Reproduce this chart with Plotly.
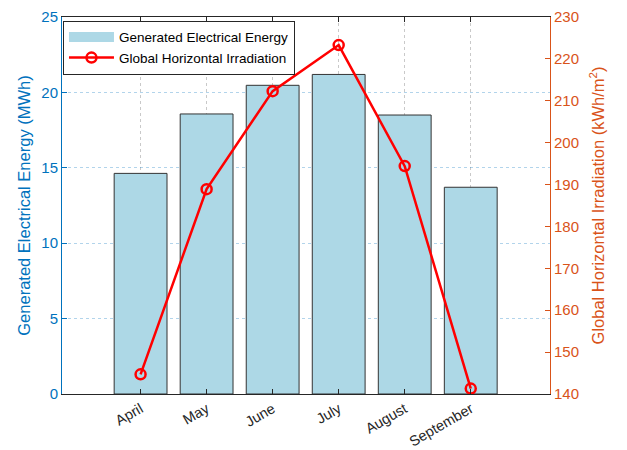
import plotly.graph_objects as go

months = ["April", "May", "June", "July", "August", "September"]
energy_mwh = [14.63, 18.57, 20.47, 21.19, 18.5, 13.71]
ghi_kwh_m2 = [144.7, 188.9, 212.3, 223.3, 194.4, 141.3]

BLUE = "#0072BD"
ORANGE = "#D95319"
FONT = "Liberation Sans, Arial, Helvetica, sans-serif"

fig = go.Figure()
fig.add_trace(go.Bar(
    x=months, y=energy_mwh, name="Generated Electrical Energy",
    marker=dict(color="#ADD8E6", line=dict(color="#333333", width=1)),
    width=0.8, showlegend=False,
))
# legend-only entry drawn as a wide swatch like the reference
fig.add_trace(go.Scatter(
    x=[None], y=[None], name="Generated Electrical Energy",
    mode="lines", line=dict(color="#ADD8E6", width=13),
    showlegend=True,
))
fig.add_trace(go.Scatter(
    x=months, y=ghi_kwh_m2, name="Global Horizontal Irradiation",
    mode="lines+markers", yaxis="y2",
    line=dict(color="#FF0000", width=2.5),
    marker=dict(symbol="circle-open", size=10, color="#FF0000", line=dict(width=2.5, color="#FF0000")),
))

# page body adds an 8px offset, so the figure is sized to fit the window
fig.update_layout(
    width=619, height=442,
    margin=dict(l=54, r=77, t=9, b=56, autoexpand=False),
    paper_bgcolor="white", plot_bgcolor="white",
    font=dict(family=FONT, size=15, color="#262626"),
    showlegend=True,
    legend=dict(x=0.002, y=0.99, xanchor="left", yanchor="top",
                bgcolor="white", bordercolor="#262626", borderwidth=1,
                font=dict(size=13.5, color="#000000"),
                tracegroupgap=0, itemwidth=45),
    xaxis=dict(
        type="category", range=[-1.19, 6.2], automargin=False,
        showline=True, linecolor="#262626", linewidth=1, mirror="ticks",
        ticks="inside", ticklen=5, tickcolor="#262626",
        tickangle=-30, tickfont=dict(size=14.5, color="#262626"),
        showgrid=True, gridcolor="rgba(120,120,120,0.4)", griddash="dot", gridwidth=1,
        zeroline=False,
    ),
    yaxis=dict(
        range=[0, 25], dtick=5, automargin=False, ticklabeloverflow="allow",
        showline=True, linecolor=BLUE, linewidth=1,
        ticks="inside", ticklen=5, tickcolor=BLUE,
        tickfont=dict(size=15, color=BLUE),
        showgrid=True, gridcolor="rgba(0,114,189,0.3)", griddash="dot", gridwidth=1,
        zeroline=False,
        title=dict(text="Generated Electrical Energy (MWh)", font=dict(size=16.5, color=BLUE), standoff=6),
    ),
    yaxis2=dict(
        range=[140, 230], dtick=10, overlaying="y", side="right", automargin=False,
        ticklabeloverflow="allow",
        showline=True, linecolor=ORANGE, linewidth=1,
        ticks="inside", ticklen=5, tickcolor=ORANGE,
        tickfont=dict(size=15, color=ORANGE),
        showgrid=False, zeroline=False,
        title=dict(text="Global Horizontal Irradiation (kWh/m<sup>2</sup>)", font=dict(size=16.5, color=ORANGE), standoff=14),
    ),
)

fig.write_html("out.html")
